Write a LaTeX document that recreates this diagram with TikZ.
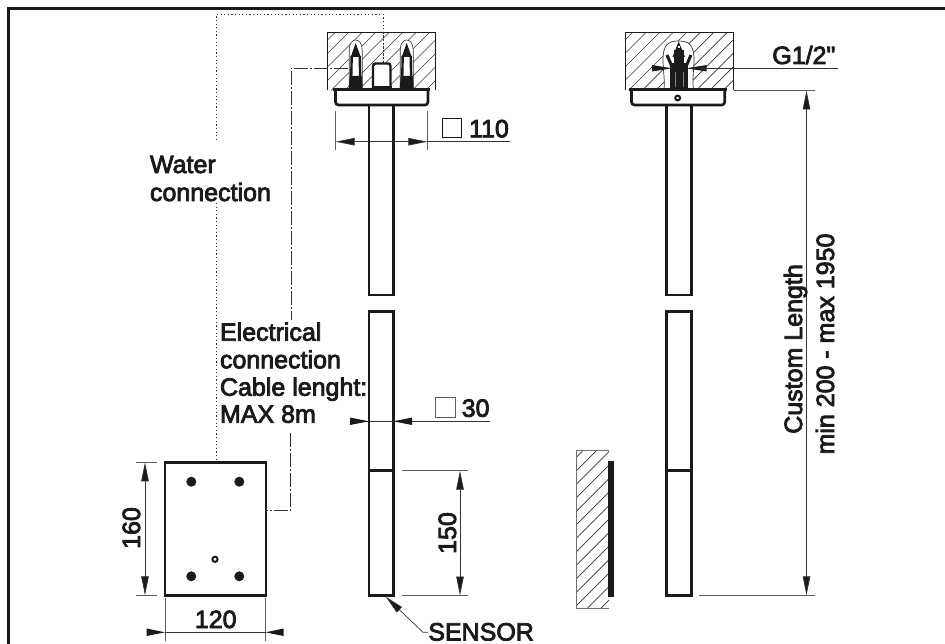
\documentclass[tikz,border=0pt]{standalone}
\usepackage{fontspec}
\usetikzlibrary{arrows.meta}
\newfontfamily\lab[FakeBold=3.2]{Liberation Sans}
\definecolor{ink}{HTML}{1A1A1A}
\definecolor{thinink}{HTML}{333333}
\tikzset{
  every node/.style={font=\lab\fontsize{25}{27}\selectfont,text=ink,inner sep=0pt,outer sep=0pt},
  frameline/.style={draw=ink,line width=2.8pt},
  heavy/.style={draw=ink,line width=2.6pt,line join=miter},
  dim/.style={draw=thinink,line width=0.8pt},
  ext/.style={draw=thinink!80,line width=0.8pt},
  tip/.style={-{Triangle[length=19pt,width=7.5pt,fill=ink]}},
  hatchline/.style={draw=thinink,line width=0.7pt},
  outline/.style={draw=thinink,line width=0.9pt},
  water/.style={draw=thinink,line width=0.9pt,dash pattern=on 1.2pt off 2.4pt},
  electric/.style={draw=thinink,line width=0.9pt,dash pattern=on 14pt off 2pt on 2pt off 2pt},
  txt/.style={anchor=base west},
  rtxt/.style={anchor=base,rotate=90},
}
\newcommand{\hatchrect}[4]{%
  \begin{scope}
    \clip (#1,#2) rectangle (#3,#4);
    \foreach \k in {0,13.5,...,320}{
      \draw[hatchline] ({#1+\k-6},#2) -- ({#1+\k-6-(#4-#2)},#4);
    }
  \end{scope}
}
\newcommand{\mypin}[1]{%
  \begin{scope}[shift={(#1,0)}]
    \path[fill=white,draw=thinink,line width=0.6pt] (-6.5,89) -- (-6.5,50) .. controls (-6.5,43) and (-3,40) .. (0,40) .. controls (3,40) and (6.5,43) .. (6.5,50) -- (6.5,89) -- cycle;
    \fill[ink] (0,43) -- (-5,57) -- (5,57) -- cycle;
    \draw[ink,line width=2.4pt] (-4,56) -- (-4.5,79);
    \draw[ink,line width=2.4pt] (4,56) -- (4.5,79);
    \fill[ink] (-6,76) -- (6,76) -- (7,89) -- (-7,89) -- cycle;
  \end{scope}
}
\begin{document}
\begin{tikzpicture}[x=1pt,y=-1pt]
\useasboundingbox[fill=white] (0,0) rectangle (945,644);
% frame
\draw[frameline] (945,8.5) -- (8.5,8.5) -- (8.5,644);

% connections
\coordinate (wA) at (216.7,140);
\coordinate (wB) at (216.7,14.3);
\coordinate (wC) at (383,14.3);
\coordinate (wD) at (383,63);
\coordinate (wE) at (216.7,203);
\coordinate (wF) at (216.7,462);
\draw[water] (wA) -- (wB) -- (wC) -- (wD);
\draw[water] (wE) -- (wF);

% wall, left view
\hatchrect{327.5}{32.5}{435.7}{90.5}
\draw[outline,draw=ink] (327.5,90.5) -- (327.5,32.5) -- (435.7,32.5) -- (435.7,90.5);
\draw[water] (383,33) -- (383,63);
\coordinate (eA) at (348,68.3);
\coordinate (eB) at (291,68.3);
\coordinate (eC) at (291,320);
\coordinate (eD) at (290.5,433);
\coordinate (eE) at (290.5,510.3);
\coordinate (eF) at (265.7,510.3);
\draw[electric] (eA) -- (eB) -- (eC);
\draw[electric] (eD) -- (eE) -- (eF);
\mypin{355.7}
\mypin{406.7}
\draw[fill=white,draw=ink,line width=2.4pt,rounded corners=2.5pt] (373,89) -- (373,63.5) -- (390.5,63.5) -- (390.5,89);
\fill[ink] (372,86.5) rectangle (391.5,89.5);
% plate, left view
\draw[fill=white,heavy,rounded corners=3pt] (335.5,89.5) -- (335.5,105) -- (428,105) -- (428,89.5);
\draw[heavy] (333,89.5) -- (430,89.5);
% stem, left view
\draw[heavy] (369,105) -- (369,295) -- (393.5,295) -- (393.5,105);
\draw[heavy] (369,595.5) -- (369,311.5) -- (393.5,311.5) -- (393.5,595.5) -- cycle;
\draw[heavy] (369,470.7) -- (393.5,470.7);

% wall, right view
\hatchrect{625}{32.5}{733.7}{90.5}
\draw[outline,draw=ink] (625,90.5) -- (625,32.5) -- (733.7,32.5) -- (733.7,90.5);
\path[fill=white,draw=thinink,line width=0.7pt] (664,89) .. controls (665,80) and (663,70) .. (663,60) .. controls (663,45) and (668,41) .. (678.5,41) .. controls (689,41) and (694,45) .. (694,60) .. controls (694,70) and (692,80) .. (693.5,89) -- cycle;
\fill[ink] (670,63) rectangle (688,89);
\fill[ink] (678.7,41.5) -- (672.5,57) -- (685,57) -- cycle;
\fill[ink] (674,50) rectangle (683.5,64);
\fill[white] (677.5,46.5) rectangle (680,48.5);
\draw[ink,line width=3pt] (667,55) -- (673,69);
\draw[ink,line width=3pt] (691,55) -- (685,69);
\fill[ink] (652,65) -- (652,71.5) -- (672,68.3) -- cycle;
\fill[ink] (706.7,65) -- (706.7,71.5) -- (686,68.3) -- cycle;
\draw[gray,line width=0.6pt] (675,72) -- (675,87);
\draw[gray,line width=0.6pt] (683,72) -- (683,87);
% plate, right view
\draw[fill=white,heavy,rounded corners=3pt] (631.5,89.5) -- (631.5,105) -- (724.7,105) -- (724.7,89.5);
\draw[heavy] (629,89.5) -- (727,89.5);
\draw[fill=white,draw=ink,line width=2pt] (677.7,98) circle (2.4);
% stem, right view
\draw[heavy] (666.7,105) -- (666.7,295) -- (691.7,295) -- (691.7,105);
\draw[heavy] (666.7,595.3) -- (666.7,311.5) -- (691.7,311.5) -- (691.7,595.3) -- cycle;
\draw[heavy] (666.7,470.7) -- (691.7,470.7);

% back wall side view
\hatchrect{576}{450}{609}{608}
\draw[outline,draw=thinink!70] (609,450) -- (576,450) -- (576,608) -- (609,608);
\fill[ink] (608,461) rectangle (614,597);

% mounting plate
\draw[draw=ink,line width=2.4pt] (165,462.3) rectangle (265.7,595.3);
\foreach \hx/\hy in {191.3/481.7,239.3/481.7,191.3/576.3,239.3/576.3}{
  \fill[ink] (\hx,\hy) circle (5);
}
\draw[draw=ink,fill=white,line width=2pt] (215,559.3) circle (2.6);

% dim 160
\draw[ext] (157,462.3) -- (136,462.3);
\draw[ext] (157,595.3) -- (136,595.3);
\coordinate (d160m) at (145,528);
\draw[dim,tip] (d160m) -- (145,462.3);
\draw[dim,tip] (d160m) -- (145,595.3);
\node[rtxt] (t160) at (140,528) {160};

% dim 120
\draw[ext] (165,598) -- (165,641);
\draw[ext] (265.7,598) -- (265.7,641);
\draw[dim] (165,632.3) -- (265.7,632.3);
\fill[ink] (146.7,628.5) -- (146.7,636) -- (165,632.3) -- cycle;
\fill[ink] (283.5,628.5) -- (283.5,636) -- (265.7,632.3) -- cycle;
\node[anchor=base] (t120) at (215.7,628) {120};

% dim 110
\draw[ext] (335.7,111) -- (335.7,150);
\draw[ext] (427.3,111) -- (427.3,150);
\coordinate (d110m) at (381,141.7);
\draw[dim,tip] (d110m) -- (335.7,141.7);
\draw[dim,tip] (d110m) -- (427.3,141.7);
\draw[dim] (427.3,141.7) -- (510,141.7);
\draw[draw=ink,line width=0.9pt] (442.3,118.3) rectangle (461.7,137.3);
\node[txt] (t110) at (469,137.3) {110};

% dim 30
\coordinate (d30a) at (350,421.3);
\coordinate (d30b) at (490,421.3);
\draw[dim] (d30a) -- (d30b);
\fill[ink] (350,417.5) -- (350,425) -- (369,421.3) -- cycle;
\fill[ink] (412,417.5) -- (412,425) -- (393.5,421.3) -- cycle;
\draw[draw=thinink!80,line width=0.9pt] (435.7,397.3) rectangle (455,417);
\node[txt] (t30) at (461.7,416.7) {30};

% dim 150
\draw[ext] (401.7,470.7) -- (468,470.7);
\draw[ext] (401.7,595.5) -- (468,595.5);
\coordinate (d150m) at (460,533);
\draw[dim,tip] (d150m) -- (460,470.7);
\draw[dim,tip] (d150m) -- (460,595.5);
\node[rtxt] (t150) at (456,533) {150};

% sensor
\coordinate (sA) at (428,632.3);
\coordinate (sB) at (423,632.3);
\coordinate (sC) at (385.7,596.7);
\draw[dim,line width=0.7pt,tip] (sA) -- (sB) -- (sC);
\node[txt] (tsensor) at (428.3,640.5) {SENSOR};

% G1/2
\coordinate (gA) at (838,68.3);
\coordinate (gB) at (700,68.3);
\draw[dim] (gA) -- (gB);
\node[txt] (tg) at (772.3,64) {G1/2"};

% custom length
\draw[ext] (733.7,90.5) -- (815,90.5);
\draw[ext] (699.3,595.3) -- (815,595.3);
\coordinate (dcm) at (806.5,340);
\draw[dim,tip] (dcm) -- (806.5,90.5);
\draw[dim,tip] (dcm) -- (806.5,595.3);
\node[rtxt] (tcl) at (802,349) {Custom Length};
\node[rtxt] (tmm) at (834,344) {min 200 - max 1950};

% labels
\node[txt] (tw1) at (150,173) {Water};
\node[txt] (tw2) at (150,201) {connection};
\node[txt] (te1) at (220,340.7) {Electrical};
\node[txt] (te2) at (220,368.3) {connection};
\node[txt] (te3) at (220,395.7) {Cable lenght:};
\node[txt] (te4) at (220,422.7) {MAX 8m};
\end{tikzpicture}
\end{document}
